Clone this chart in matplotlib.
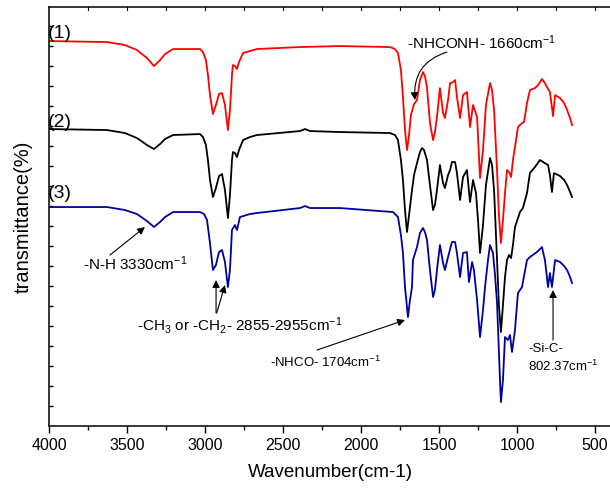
import numpy as np
import matplotlib
matplotlib.use('Agg')
import matplotlib.pyplot as plt

plt.rcParams['font.family'] = ['Liberation Sans', 'DejaVu Sans']
plt.rcParams['mathtext.fontset'] = 'custom'
plt.rcParams['mathtext.rm'] = 'Liberation Sans'
plt.rcParams['mathtext.it'] = 'Liberation Sans'

# spectrum (1) - red
wn1 = [4000, 3628, 3513, 3436, 3372, 3327, 3288, 3256, 3205, 3032, 3013, 2994, 2981, 2968,
       2949, 2930, 2910, 2891, 2872, 2853, 2840, 2827, 2821, 2808, 2795, 2782, 2756, 2712,
       2667, 2391, 2135, 1814, 1782, 1763, 1744, 1731, 1718, 1705, 1692, 1680, 1660, 1641,
       1622, 1603, 1590, 1577, 1558, 1538, 1526, 1513, 1494, 1474, 1462, 1442, 1429, 1410,
       1397, 1385, 1365, 1346, 1321, 1301, 1282, 1256, 1237, 1218, 1199, 1173, 1160, 1147,
       1128, 1116, 1103, 1090, 1077, 1064, 1051, 1038, 1026, 1006, 994, 968, 955, 936, 917,
       885, 865, 840, 821, 808, 789, 769, 756, 724, 698, 679, 660, 647]
t1 = [96.25, 96, 95.25, 94, 92, 90, 91.5, 93, 94.25, 94.25, 93.5, 91.5, 87.75, 82.75,
      78, 80.25, 83, 83.25, 80.25, 74, 79, 87.75, 90.25, 90, 89.25, 91, 93.25, 93.75,
      94.25, 94.75, 95, 94.75, 94.25, 93.25, 89, 82.25, 74, 69, 72.75, 77.75, 80.5, 81.5,
      86.5, 88.5, 87.5, 84.75, 75.75, 71.5, 73.5, 77.25, 84.5, 78.25, 77, 81.5, 85.75, 86,
      86.5, 82.25, 77, 82.75, 83.5, 74.75, 80.25, 77.25, 62, 69, 80.25, 85.75, 84, 79,
      64, 52.75, 45.75, 51.5, 58.25, 64, 63.5, 62.25, 66.5, 71.5, 74.75, 75.75, 76, 80.75, 84,
      84.5, 85.25, 86.75, 85.75, 84.75, 83.5, 77.5, 82.75, 82, 80.75, 79, 77, 75.25]

# spectrum (2) - black
wn2 = [4000, 3628, 3513, 3436, 3372, 3327, 3288, 3256, 3205, 3032, 3013, 2994, 2981, 2968,
       2949, 2930, 2910, 2891, 2872, 2853, 2840, 2827, 2821, 2808, 2795, 2782, 2756, 2712,
       2667, 2391, 2359, 2327, 2135, 1814, 1782, 1763, 1744, 1731, 1718, 1705, 1692, 1673,
       1660, 1641, 1622, 1609, 1596, 1577, 1558, 1538, 1526, 1513, 1494, 1474, 1462, 1442,
       1429, 1417, 1397, 1385, 1365, 1346, 1321, 1301, 1282, 1263, 1250, 1237, 1218, 1199,
       1173, 1160, 1147, 1128, 1116, 1103, 1090, 1077, 1064, 1051, 1038, 1026, 1013, 981,
       962, 936, 917, 885, 853, 833, 801, 789, 776, 763, 724, 698, 679, 660, 647]
t2 = [74.25, 74, 73.25, 72, 70.25, 69.25, 70.5, 71.75, 72.75, 73, 72.25, 70.25, 66.5, 61.5,
      57.25, 59.5, 62.5, 63, 59, 52, 57.75, 66.5, 68.5, 68.25, 67.25, 69, 71.5, 72.25,
      72.75, 73.75, 74.25, 73.75, 73.5, 73.25, 72.75, 71.5, 66.5, 61.5, 54, 48.5, 52.75, 59,
      62.75, 65.75, 68.5, 69.5, 69, 66.5, 60.25, 54, 55.25, 59, 65.25, 60.75, 59.5, 62.75,
      64, 66, 66, 63.25, 56.5, 62.25, 64, 56, 61.5, 58.25, 51.5, 43.25, 50.25, 60.25,
      67, 65.25, 59, 41.5, 30.25, 23.5, 30.25, 37.25, 41.5, 42.75, 42, 45.25, 49.75, 53.5,
      54.5, 58.25, 63.25, 64.75, 66.5, 66, 65.25, 62.75, 58.5, 63.25, 62.5, 61.5, 60.25, 58.5, 57.25]

# spectrum (3) - blue
wn3 = [4000, 3628, 3513, 3436, 3372, 3327, 3288, 3256, 3205, 3032, 3006, 2987, 2968, 2949,
       2930, 2910, 2891, 2872, 2853, 2840, 2827, 2808, 2795, 2776, 2712, 2667, 2391, 2359,
       2327, 2135, 1795, 1763, 1744, 1731, 1718, 1699, 1686, 1673, 1667, 1641, 1622, 1603,
       1590, 1577, 1558, 1538, 1526, 1513, 1494, 1474, 1462, 1442, 1417, 1397, 1385, 1365,
       1346, 1321, 1308, 1288, 1276, 1256, 1237, 1218, 1205, 1186, 1173, 1154, 1141, 1128,
       1109, 1103, 1090, 1077, 1058, 1045, 1032, 1013, 994, 968, 936, 917, 872, 840, 821,
       801, 789, 776, 756, 724, 698, 679, 660, 647]
t3 = [54.75, 54.75, 54, 53, 51.25, 49.75, 51, 52.25, 53.5, 53.5, 53, 51.5, 45.75, 39,
      40.25, 43.5, 44, 41, 34.75, 39, 49, 50.25, 49, 52.25, 53, 53.25, 54.5, 55,
      54.5, 54.5, 53.5, 52.25, 47.75, 43.25, 34.75, 27.25, 31.5, 34.75, 41.5, 44.75, 48.25, 49.5,
      48.5, 46.5, 39, 32.25, 34, 39, 45.25, 40.75, 39, 42.25, 46, 46, 43.25, 37.25,
      43.25, 43.5, 36, 41, 39, 31.5, 22.25, 29, 34.75, 41.5, 45.25, 43.25, 37.75, 30.75,
      11.5, 6, 11.5, 22.25, 21.5, 22.75, 18.5, 24, 33.25, 34.75, 41.5, 42.25, 43.5, 44.75, 41.5,
      34.75, 38.25, 34.75, 41.5, 41, 40, 39, 37.25, 35.75]

fig = plt.figure(figsize=(6.1, 4.9), dpi=100)
ax = fig.add_axes([0.0803, 0.1306, 0.923, 0.855])

ax.plot(wn1, t1, color='#ff0000', lw=1.3)
ax.plot(wn2, t2, color='black', lw=1.3)
ax.plot(wn3, t3, color='#0000a0', lw=1.3)

ax.set_xlim(4000, 391)
ax.set_ylim(0, 104.75)
ax.set_xticks([4000, 3500, 3000, 2500, 2000, 1500, 1000, 500])
ax.set_xticks(np.arange(3750, 400, -500), minor=True)
ax.set_yticks(np.arange(5, 104, 5))
ax.set_yticklabels([])
ax.tick_params(axis='x', which='major', direction='out', length=5, width=1, labelsize=11.5, top=False)
ax.tick_params(axis='x', which='minor', direction='out', length=3, width=1, top=False)
ax.tick_params(axis='y', which='major', direction='in', length=3, width=1)
for s in ax.spines.values():
    s.set_linewidth(1.1)
ax.spines['right'].set_visible(False)

# top inner ticks
for w in np.arange(3750, 400, -250):
    ax.plot([w, w], [104.75, 103.9], color='k', lw=0.8, clip_on=False)

ax.set_xlabel('Wavenumber(cm-1)', fontsize=13.5, labelpad=8)
ax.set_ylabel('transmittance(%)', fontsize=14.5, labelpad=8)

ax.text(4006, 98.25, '(1)', fontsize=14, va='center', ha='left')
ax.text(4006, 75.9, '(2)', fontsize=14, va='center', ha='left')
ax.text(4006, 58.25, '(3)', fontsize=14, va='center', ha='left')

arr = dict(arrowstyle='-|>', color='k', lw=0.8, mutation_scale=11, shrinkA=0, shrinkB=0)

ax.text(1705, 95.75, r'-NHCONH- 1660cm$^{-1}$', fontsize=11, va='center', ha='left')
ax.annotate('', xy=(1654, 81.5), xytext=(1449, 93.5),
            arrowprops=dict(arr, connectionstyle='arc3,rad=0.4'))

ax.text(3782, 40.5, r'-N-H 3330cm$^{-1}$', fontsize=11, va='center', ha='left')
ax.annotate('', xy=(3385, 49.75), xytext=(3609, 42.75), arrowprops=arr)

ax.text(3436, 25.25, r'-CH$_3$ or -CH$_2$- 2855-2955cm$^{-1}$', fontsize=11, va='center', ha='left')
ax.annotate('', xy=(2929, 36.5), xytext=(2929, 28.25), arrowprops=arr)
ax.annotate('', xy=(2872, 35.25), xytext=(2925, 28.25), arrowprops=arr)

ax.text(2583, 16, r'-NHCO- 1704cm$^{-1}$', fontsize=9.5, va='center', ha='left')
ax.annotate('', xy=(1718, 26.5), xytext=(2282, 19), arrowprops=arr)

ax.text(930, 19.25, '-Si-C-', fontsize=9.5, va='center', ha='left')
ax.text(930, 15, r'802.37cm$^{-1}$', fontsize=9.5, va='center', ha='left')
ax.annotate('', xy=(769, 34), xytext=(769, 21.5), arrowprops=arr)

fig.savefig('out.png', dpi=100)
